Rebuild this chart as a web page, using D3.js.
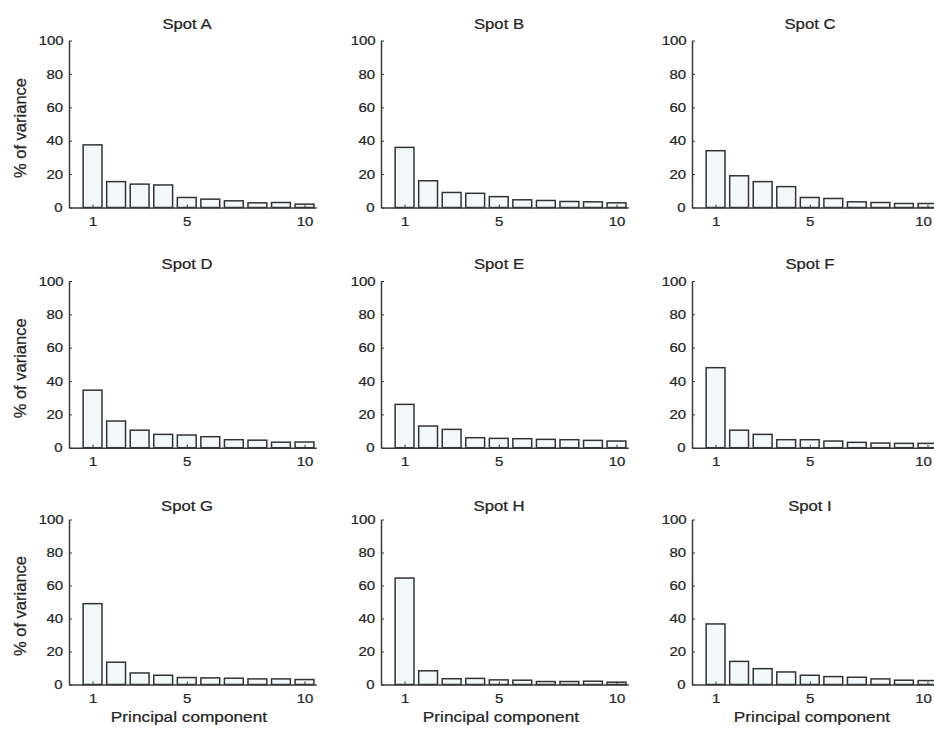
<!DOCTYPE html>
<html>
<head>
<meta charset="utf-8">
<script src="https://cdn.jsdelivr.net/npm/d3@7"></script>
<style>
  html, body { margin: 0; padding: 0; background: #ffffff; }
  svg { display: block; font-family: "Liberation Sans", Arial, Helvetica, sans-serif; }
  .stretch { transform-box: fill-box; transform-origin: center; transform: scaleX(1.15); }
</style>
</head>
<body>
<svg id="chart" width="934" height="730"></svg>
<script>
// ---- data ----
const spots = ["Spot A", "Spot B", "Spot C", "Spot D", "Spot E", "Spot F", "Spot G", "Spot H", "Spot I"];
const components = [1, 2, 3, 4, 5, 6, 7, 8, 9, 10];
const spotA = [37.5, 15.5, 14, 13.5, 6, 5, 4, 2.8, 3, 2];
const spotB = [36, 16, 9, 8.5, 6.5, 4.6, 4.2, 3.6, 3.4, 2.8];
const spotC = [34, 19, 15.5, 12.5, 6, 5.4, 3.4, 3, 2.4, 2.4];
const spotD = [34.5, 16, 10.5, 8, 7.6, 6.6, 4.8, 4.5, 3.3, 3.4];
const spotE = [26, 13, 11, 6, 5.6, 5.4, 5, 4.8, 4.4, 4];
const spotF = [48, 10.5, 8, 4.8, 4.8, 4, 3.2, 2.8, 2.6, 2.6];
const spotG = [49, 13.5, 7, 5.6, 4.2, 4, 3.8, 3.4, 3.4, 3];
const spotH = [64.5, 8.3, 3.5, 3.7, 2.8, 2.6, 1.8, 1.8, 2, 1.4];
const spotI = [36.7, 14, 9.6, 7.6, 5.6, 4.8, 4.4, 3.4, 2.6, 2.4];
const yTicks = [0, 20, 40, 60, 80, 100];
const xTicks = [1, 5, 10];
const yLabel = "% of variance";
const xLabel = "Principal component";

const seriesList = [spotA, spotB, spotC, spotD, spotE, spotF, spotG, spotH, spotI];

// ---- layout ----
const colX = [69, 381, 692];
const rowTop = [40.5, 281, 519.5];
const rowBottom = [207.5, 447.7, 684.5];
const titleBase = [29, 269, 511];
const step = 23.55;
const textCol = "#262626";
const axisCol = "#3a3a3a";

const svg = d3.select("#chart");

function styleText(sel, size) {
  sel.attr("fill", textCol)
    .attr("font-size", size)
    .attr("font-family", "Liberation Sans, Arial, sans-serif")
    .attr("stroke", textCol)
    .attr("stroke-width", 0.25)
    .attr("class", "stretch");
}

spots.forEach((name, i) => {
  const col = i % 3, row = Math.floor(i / 3);
  const values = seriesList[i];
  const x = d3.scaleLinear().domain([0, 10.5]).range([colX[col], colX[col] + 10.5 * step]);
  const y = d3.scaleLinear().domain([0, 100]).range([rowBottom[row], rowTop[row]]);
  const g = svg.append("g");

  // bars
  g.selectAll("rect.bar")
    .data(components.map((c, k) => ({ c, v: values[k] })))
    .join("rect")
    .attr("class", "bar")
    .attr("x", d => x(d.c - 0.4))
    .attr("width", d => x(d.c + 0.4) - x(d.c - 0.4))
    .attr("y", d => y(d.v))
    .attr("height", d => y(0) - y(d.v))
    .attr("fill", "#f3f8fb")
    .attr("stroke", "#333")
    .attr("stroke-width", 1.5);

  // y axis
  const ya = g.append("g")
    .attr("transform", `translate(${colX[col]},0)`)
    .call(d3.axisLeft(y).tickValues(yTicks).tickSizeInner(-3).tickSizeOuter(0).tickPadding(7));
  ya.select(".domain").attr("stroke", axisCol).attr("stroke-width", 1.5);
  ya.selectAll(".tick line").attr("stroke", axisCol).attr("stroke-width", 1);
  styleText(ya.selectAll(".tick text"), 13);

  // x axis
  const xa = g.append("g")
    .attr("transform", `translate(0,${y(0)})`)
    .call(d3.axisBottom(x).tickValues(xTicks).tickSizeInner(-3).tickSizeOuter(0).tickPadding(9));
  xa.select(".domain").attr("stroke", axisCol).attr("stroke-width", 1.5);
  xa.selectAll(".tick line").attr("stroke", axisCol).attr("stroke-width", 1);
  styleText(xa.selectAll(".tick text"), 13);
  if (col === 2) {
    // keep the last label inside the page, as in the reference
    xa.selectAll(".tick text").filter(d => d === 10).attr("dx", -4.5);
  }

  // title
  const t = g.append("text")
    .attr("x", colX[col] + 118)
    .attr("y", titleBase[row])
    .attr("text-anchor", "middle")
    .text(name);
  styleText(t, 14.5);

  // y label on left column
  if (col === 0) {
    const cy = (y(0) + y(100)) / 2 + 4;
    g.append("text")
      .attr("transform", `translate(26,${cy}) rotate(-90)`)
      .attr("text-anchor", "middle")
      .attr("font-size", 16.5)
      .attr("fill", textCol)
      .attr("stroke", textCol)
      .attr("stroke-width", 0.25)
      .text(yLabel);
  }
  // x label on bottom row
  if (row === 2) {
    const xl = g.append("text")
      .attr("x", colX[col] + 120)
      .attr("y", 722)
      .attr("text-anchor", "middle")
      .text(xLabel);
    styleText(xl, 15);
  }
});
</script>
</body>
</html>
